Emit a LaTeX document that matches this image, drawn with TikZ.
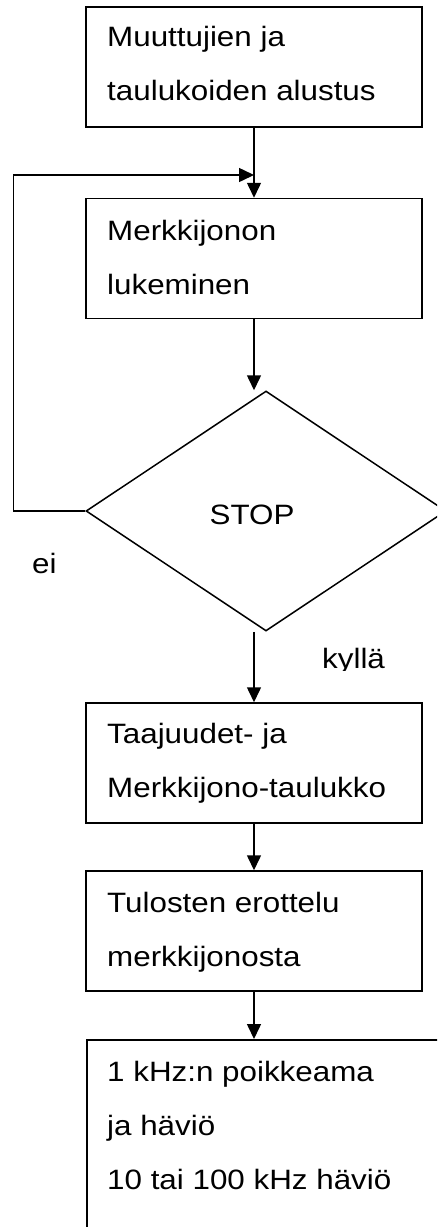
\documentclass[tikz,border=0pt]{standalone}
\usepackage{fontspec}
\setmainfont{Liberation Sans}[FakeStretch=1.12]
\usetikzlibrary{shapes.geometric,arrows.meta}
\begin{document}
\begin{tikzpicture}[x=1pt,y=-1pt,
  lw/.style={line width=1.5pt},
  box/.style={draw, lw, minimum width=336pt, minimum height=120pt, inner sep=0pt},
  txt/.style={anchor=north west, inner sep=0pt, align=left, font=\fontsize{28}{54}\selectfont},
  lbl/.style={inner sep=0pt, font=\fontsize{28}{34}\selectfont},
  arr/.style={lw, -{Triangle[length=15pt,width=14pt]}}]
\clip (0,0) rectangle (437,1227);
\fill[white] (0,0) rectangle (437,1227);
% boxes
\node[box] (b1) at (254,67) {};
\node[box] (b2) at (254,258.5) {};
\node[draw, lw, diamond, aspect=1.5, minimum width=360pt, minimum height=240pt, inner sep=0pt] (d) at (266,511) {};
\node[box] (b3) at (254,763) {};
\node[box] (b4) at (254,931) {};
\node[draw, lw, anchor=north west, minimum width=380pt, minimum height=250pt, inner sep=0pt] (b5) at (86,1039) {};
% texts
\node[txt] (t1) at (107,24.7) {\rule{0pt}{22pt}Muuttujien ja\\taulukoiden alustus};
\node[txt] (t2) at (107,218) {\rule{0pt}{22pt}Merkkijonon\\lukeminen};
\node[txt] (t3) at (107,721) {\rule{0pt}{22pt}Taajuudet- ja\\Merkkijono-taulukko};
\node[txt] (t4) at (107,890) {\rule{0pt}{22pt}Tulosten erottelu\\merkkijonosta};
\node[txt] (t5) at (107,1059) {\rule{0pt}{22pt}1 kHz:n poikkeama\\ja häviö\\10 tai 100 kHz häviö};
\node[lbl, anchor=base] (stop) at (252,524) {STOP};
\node[lbl, anchor=base west] (ei) at (32,573) {ei};
\begin{scope}
\clip (300,630) rectangle (420,670);
\node[lbl, anchor=base west] (ky) at (322,668) {kyllä};
\end{scope}
% connectors
\coordinate (j) at (254,175);
\draw[arr] (b1.south) -- (b2.north);
\draw[arr] (d.west) -- ++(-72,0) |- (j);
\draw[arr] (b2.south) -- (b2.south |- d.north);
\draw[arr] (b3.north |- d.south) -- (b3.north);
\draw[arr] (b3.south) -- (b4.north);
\draw[arr] (b4.south) -- (b4.south |- b5.north);
\end{tikzpicture}
\end{document}
